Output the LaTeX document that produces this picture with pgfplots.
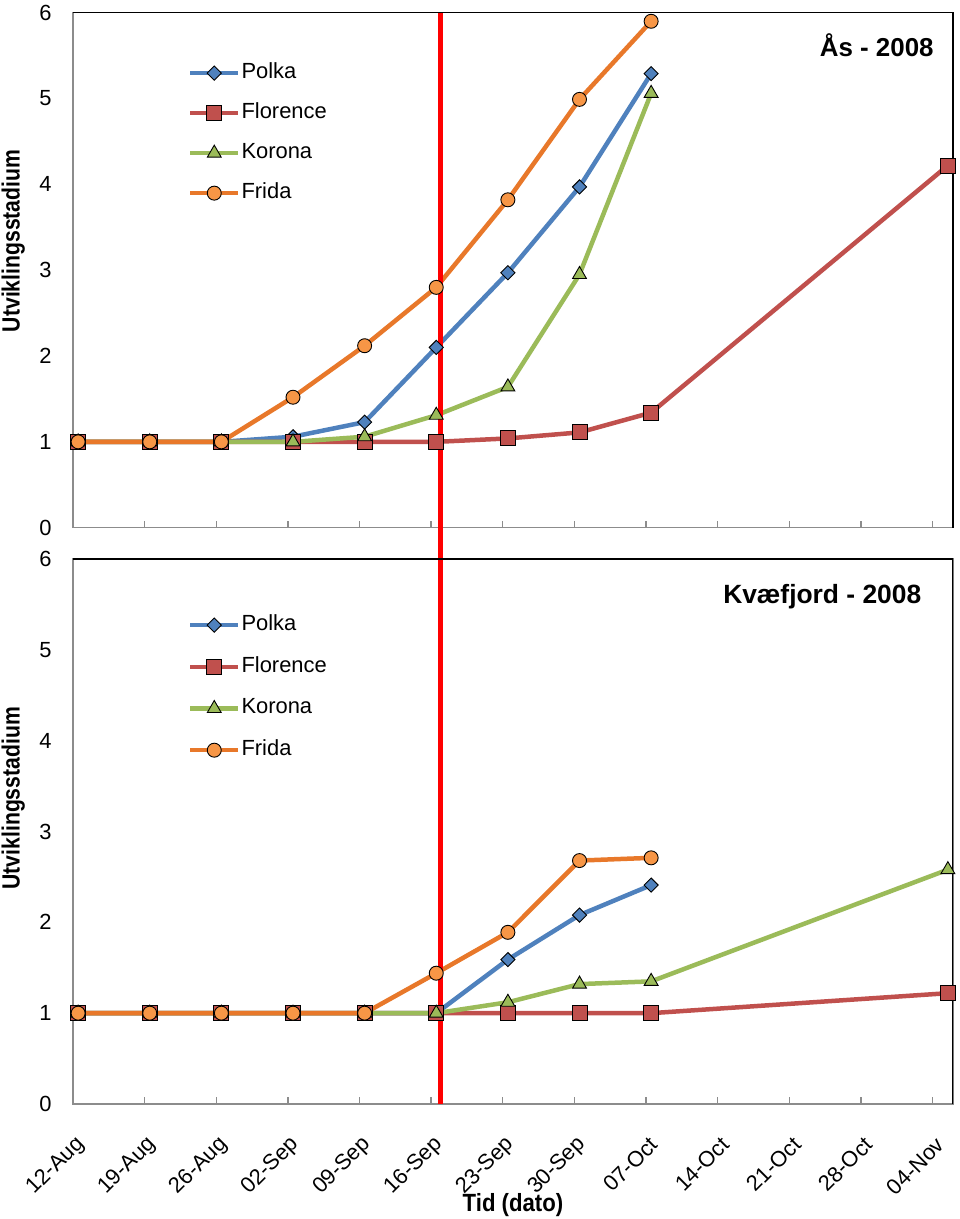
\documentclass[border=0pt]{standalone}
\usepackage{fontspec}
\setmainfont{Liberation Sans}
\usepackage{pgfplots}
\pgfplotsset{compat=1.18}
\definecolor{cPolka}{HTML}{4F81BD}
\definecolor{cFlorence}{HTML}{C0504D}
\definecolor{cKorona}{HTML}{9BBB59}
\definecolor{cFridaLine}{HTML}{E8782A}
\definecolor{cFridaFill}{HTML}{F79646}
\definecolor{axgray}{HTML}{8C8C8C}

\pgfplotsset{
 mystyle/.style={
  scale only axis, width=880bp, xmin=0, xmax=86, ymin=0, ymax=6,
  axis line style={axgray, line width=1.3bp},
  xtick={0,7,...,84}, xtick pos=bottom, tick align=inside, major tick length=7bp,
  xtick style={axgray, line width=1.3bp},
  ytick={0,...,6}, ytick style={draw=none},
  yticklabel style={font=\fontsize{22}{24}\selectfont, xshift=-18bp},
  /pgf/number format/assume math mode=true,
  ylabel={\scalebox{0.85}[1]{Utviklingsstadium}},
  legend cell align=left,
  legend image code/.code={\draw[mark repeat=2, mark phase=2] plot coordinates {(0bp,0bp) (24bp,0bp) (48bp,0bp)};},
  legend style={draw=none, fill=none, font=\fontsize{22}{24}\selectfont, anchor=north west, inner sep=0pt, outer sep=0pt, column sep=0bp, nodes={inner sep=1bp, text height=15bp, text depth=4bp}},
 },
 sPolka/.style={cPolka, line width=4.5bp, mark=square*, mark size=5bp, mark options={rotate=45, fill=cPolka, draw=black, line width=0.9bp}},
 sFlorence/.style={cFlorence, line width=4.5bp, mark=square*, mark size=7.5bp, mark options={fill=cFlorence, draw=black, line width=0.9bp}},
 sKorona/.style={cKorona, line width=4.5bp, mark=triangle*, mark size=8bp, mark options={fill=cKorona, draw=black, line width=0.9bp}},
 sFrida/.style={cFridaLine, line width=4.5bp, mark=*, mark size=7bp, mark options={fill=cFridaFill, draw=black, line width=0.9bp}},
}

\begin{document}
\begin{tikzpicture}
\path[use as bounding box] (0,0) rectangle (960bp,1219bp);

% ---------------- Top: Ås ----------------
\begin{axis}[mystyle, at={(73bp,691.3bp)}, anchor=south west, height=515bp,
  clip=false, xticklabels={},
  ylabel style={font=\fontsize{25}{28}\selectfont\bfseries, at={(axis description cs:-0.068,0.557)}, anchor=center},
  legend style={at={(axis description cs:0.1307,0.903)}, row sep=19bp}]
\addplot[sPolka] coordinates {(0.5,1)(7.5,1)(14.5,1)(21.5,1.06)(28.5,1.23)(35.5,2.10)(42.5,2.97)(49.5,3.97)(56.5,5.29)};
\addplot[sFlorence] coordinates {(0.5,1)(7.5,1)(14.5,1)(21.5,1)(28.5,1)(35.5,1)(42.5,1.04)(49.5,1.11)(56.5,1.34)(85.5,4.22)};
\addplot[sKorona] coordinates {(0.5,1)(7.5,1)(14.5,1)(21.5,1)(28.5,1.06)(35.5,1.31)(42.5,1.64)(49.5,2.95)(56.5,5.06)};
\addplot[sFrida] coordinates {(0.5,1)(7.5,1)(14.5,1)(21.5,1.52)(28.5,2.12)(35.5,2.80)(42.5,3.82)(49.5,4.99)(56.5,5.90)};
\legend{Polka,Florence,Korona,Frida}
\addplot[red, line width=4.5bp, forget plot] coordinates {(35.9,-0.38) (35.9,6)};
\draw[black, line width=1.3bp] (rel axis cs:0,1) -- (rel axis cs:1,1) -- (rel axis cs:1,0);
\node[anchor=east, font=\fontsize{26}{28}\selectfont\bfseries] at (rel axis cs:0.982,0.936) {Ås - 2008};
\end{axis}

% ---------------- Bottom: Kvæfjord ----------------
\begin{axis}[mystyle, at={(73bp,115bp)}, anchor=south west, height=545bp,
  xticklabels={12-Aug,19-Aug,26-Aug,02-Sep,09-Sep,16-Sep,23-Sep,30-Sep,07-Oct,14-Oct,21-Oct,28-Oct,04-Nov},
  xticklabel style={font=\fontsize{22}{24}\selectfont, inner sep=0pt, anchor=east, xshift=8bp, yshift=-37bp, rotate=45},
  xlabel={\scalebox{0.89}[1]{Tid (dato)}},
  xlabel style={font=\fontsize{25}{28}\selectfont\bfseries, at={(axis description cs:0.5,-0.186)}, anchor=center},
  ylabel style={font=\fontsize{25}{28}\selectfont\bfseries, at={(axis description cs:-0.068,0.561)}, anchor=center},
  legend style={at={(axis description cs:0.1307,0.898)}, row sep=20.7bp}]
\addplot[sPolka] coordinates {(0.5,1)(7.5,1)(14.5,1)(21.5,1)(28.5,1)(35.5,1)(42.5,1.59)(49.5,2.08)(56.5,2.41)};
\addplot[sFlorence] coordinates {(0.5,1)(7.5,1)(14.5,1)(21.5,1)(28.5,1)(35.5,1)(42.5,1)(49.5,1)(56.5,1)(85.5,1.22)};
\addplot[sKorona] coordinates {(0.5,1)(7.5,1)(14.5,1)(21.5,1)(28.5,1)(35.5,1)(42.5,1.12)(49.5,1.32)(56.5,1.35)(85.5,2.58)};
\addplot[sFrida] coordinates {(0.5,1)(7.5,1)(14.5,1)(21.5,1)(28.5,1)(35.5,1.44)(42.5,1.89)(49.5,2.68)(56.5,2.71)};
\legend{Polka,Florence,Korona,Frida}
\addplot[red, line width=4.5bp, forget plot] coordinates {(35.9,0) (35.9,6)};
\draw[black, line width=1.3bp] (rel axis cs:0,1) -- (rel axis cs:1,1) -- (rel axis cs:1,0);
\node[anchor=east, font=\fontsize{26.5}{28}\selectfont\bfseries] at (rel axis cs:0.968,0.93) {Kvæfjord - 2008};
\end{axis}
\end{tikzpicture}
\end{document}
